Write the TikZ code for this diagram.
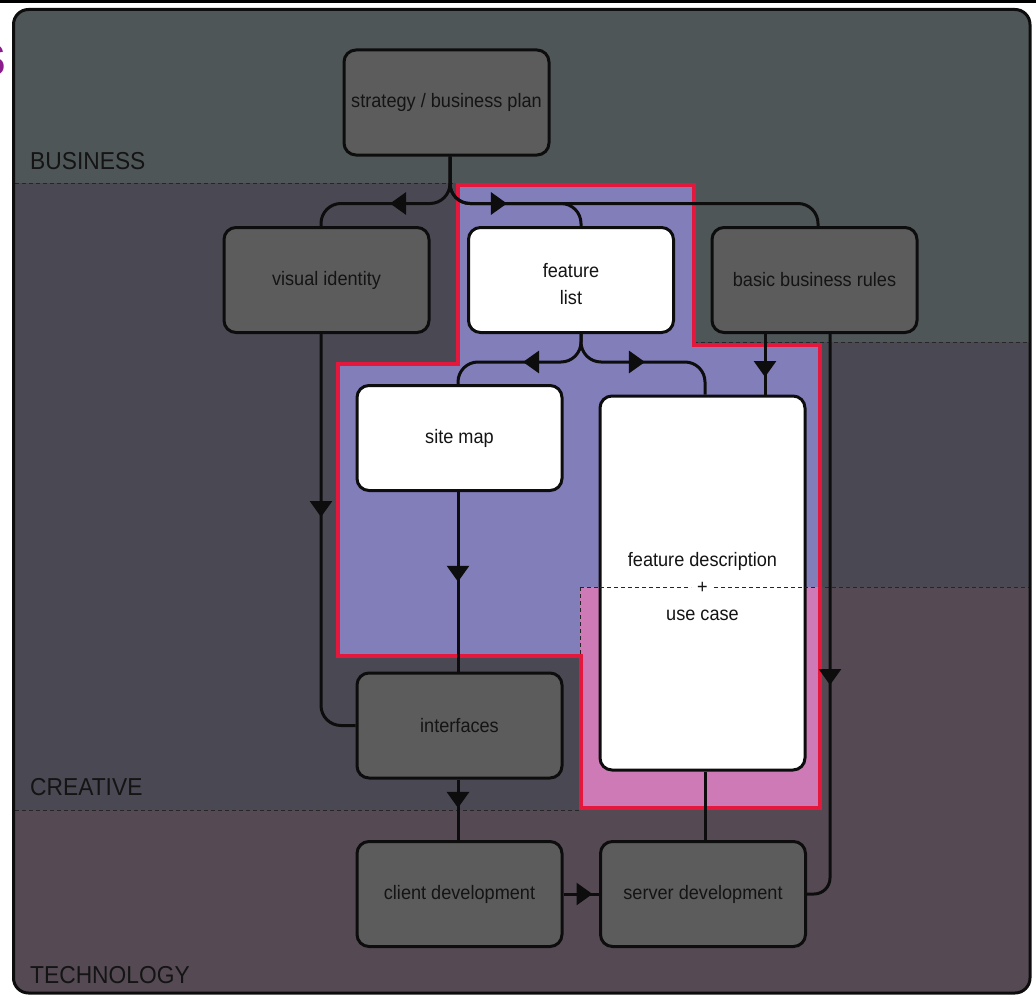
\documentclass[tikz,border=0pt]{standalone}
\usepackage{fontspec}
\setmainfont{Liberation Sans}[FakeStretch=0.93]
\usetikzlibrary{arrows.meta,decorations.markings,backgrounds}
\definecolor{bizbg}{HTML}{4F5658}
\definecolor{crebg}{HTML}{4A4853}
\definecolor{tecbg}{HTML}{554A53}
\definecolor{purp}{HTML}{817EBA}
\definecolor{pinkf}{HTML}{CD7AB6}
\definecolor{redl}{HTML}{E4183C}
\definecolor{boxgrey}{HTML}{5C5C5C}
\definecolor{ink}{HTML}{0D0D0D}
\definecolor{txt}{HTML}{141414}
\definecolor{dashc}{HTML}{262626}
\definecolor{titlep}{HTML}{8A1C8C}
\newcommand{\nodefont}{\fontsize{19.5}{27}\selectfont}
\newcommand{\lblfont}{\fontsize{24.5}{28}\selectfont}
\newcommand{\lowstrut}{\rule{0pt}{22pt}}
\tikzset{
  box/.style={draw=ink, line width=3pt, rounded corners=12pt, minimum width=205pt,
    minimum height=105pt, align=center, font=\nodefont, text=txt, inner sep=0pt},
  greybox/.style={box, fill=boxgrey},
  whitebox/.style={box, fill=white},
  conn/.style={draw=ink, line width=3pt},
  arrowat/.style={postaction={decorate}, decoration={markings,
    mark=at position #1 with {\arrow[ink]{Triangle[length=16pt,width=22pt]}}}},
  lbl/.style={font=\lblfont, text=txt, inner sep=0pt, anchor=base west},
  bandline/.style={draw=dashc, line width=1pt, dash pattern=on 4pt off 3pt}
}
\begin{document}
\begin{tikzpicture}[x=1pt, y=-1pt]
\useasboundingbox (0,0) rectangle (1036,998);
% top rule
\fill[black] (0,0) rectangle (1036,3);
% cut-off title letter
\node[text=titlep, font=\fontsize{44}{44}\selectfont\bfseries, inner sep=0pt, anchor=base east] (ttl) at (6,75) {S};

% nodes
\node[greybox] (strat) at (446.5,102.5) {strategy / business plan};
\node[greybox] (vis) at (326.5,280) {visual identity};
\node[whitebox] (feat) at (571,280) {\lowstrut feature\\list};
\node[greybox] (rules) at (814.5,280) {basic business rules};
\node[whitebox] (site) at (459.5,438) {site map};
\node[whitebox, minimum height=374pt] (fd) at (702.5,583) {\lowstrut feature description\\+\\use case};
\node[greybox] (iface) at (459.5,725.5) {interfaces};
\node[greybox] (client) at (459.5,894) {client development};
\node[greybox] (server) at (703,894) {server development};

% section labels
\node[lbl] (lbiz) at (30,169) {BUSINESS};
\node[lbl] (lcre) at (30,795) {CREATIVE};
\node[lbl] (ltec) at (30,983) {TECHNOLOGY};

% band line drawn over the feature description box
\draw[bandline] (600,587) -- (691,587);
\draw[bandline] (714,587) -- (806,587);

% connectors
\coordinate (s0) at ([xshift=3.5pt]strat.south);
\draw[conn, rounded corners=20pt, arrowat=98.4pt] (s0) -- ++(0,47) -| ([xshift=-5.5pt]vis.north);
\draw[conn, rounded corners=20pt, arrowat=95.4pt] (s0) -- ++(0,47) -| ([xshift=10pt]feat.north);
\draw[conn, rounded corners=20pt] (s0) -- ++(0,47) -| ([xshift=3.5pt]rules.north);

\coordinate (f0) at ([xshift=10pt]feat.south);
\draw[conn, rounded corners=20pt, arrowat=77.4pt] (f0) -- ++(0,28) -| ([xshift=-1.5pt]site.north);
\draw[conn, rounded corners=20pt, arrowat=83.4pt] (f0) -- ++(0,28) -| ([xshift=2.5pt]fd.north);

\coordinate (r1) at ([xshift=-49.5pt]rules.south);
\draw[conn, arrowat=43pt] (r1) -- (r1 |- fd.north);
\coordinate (r2) at ([xshift=15.5pt]rules.south);
\draw[conn, rounded corners=16pt, arrowat=351pt] (r2) |- (server.east);

\coordinate (v1) at ([xshift=-5.5pt]vis.south);
\draw[conn, rounded corners=20pt, arrowat=183pt] (v1) |- (iface.west);

\draw[conn, arrowat=0.5] ([xshift=-1.5pt]site.south) -- ([xshift=-1.5pt]iface.north);
\draw[conn, arrowat=0.47] ([xshift=-1.5pt]iface.south) -- ([xshift=-1.5pt]client.north);
\draw[conn, arrowat=29pt] (client.east) -- (server.west);
\draw[conn] ([xshift=2.5pt]fd.south) -- ([xshift=2pt]server.north);

% outer frame
\draw[ink, line width=3pt, rounded corners=15pt] (13.5,9.5) rectangle (1030,993);

\begin{scope}[on background layer]
  \begin{scope}
    \clip[rounded corners=15pt] (13.5,9.5) rectangle (1030,993);
    \fill[tecbg] (0,0) rectangle (1036,998);
    \fill[crebg] (0,183) -- (458,183) -- (458,342) -- (1036,342) -- (1036,587)
      -- (580,587) -- (580,810) -- (0,810) -- cycle;
    \fill[bizbg] (0,0) -- (1036,0) -- (1036,342) -- (458,342) -- (458,183) -- (0,183) -- cycle;
  \end{scope}
  % highlighted region
  \fill[purp] (458,185) -- (694,185) -- (694,345) -- (820,345) -- (820,808) -- (581,808)
    -- (581,656) -- (338,656) -- (338,364) -- (458,364) -- cycle;
  \begin{scope}
    \clip (458,185) -- (694,185) -- (694,345) -- (820,345) -- (820,808) -- (581,808)
      -- (581,656) -- (338,656) -- (338,364) -- (458,364) -- cycle;
    \fill[pinkf] (580,587) rectangle (1036,998);
  \end{scope}
  % band boundaries
  \draw[bandline] (15,183) -- (458,183);
  \draw[bandline] (694,342) -- (1029,342);
  \draw[bandline] (580,587) -- (1029,587);
  \draw[bandline] (580,587) -- (580,656);
  \draw[bandline] (15,810) -- (581,810);
  % red outline
  \draw[redl, line width=4pt, line join=miter] (458,185) -- (694,185) -- (694,345) -- (820,345)
    -- (820,808) -- (581,808) -- (581,656) -- (338,656) -- (338,364) -- (458,364) -- cycle;
\end{scope}
\end{tikzpicture}
\end{document}
